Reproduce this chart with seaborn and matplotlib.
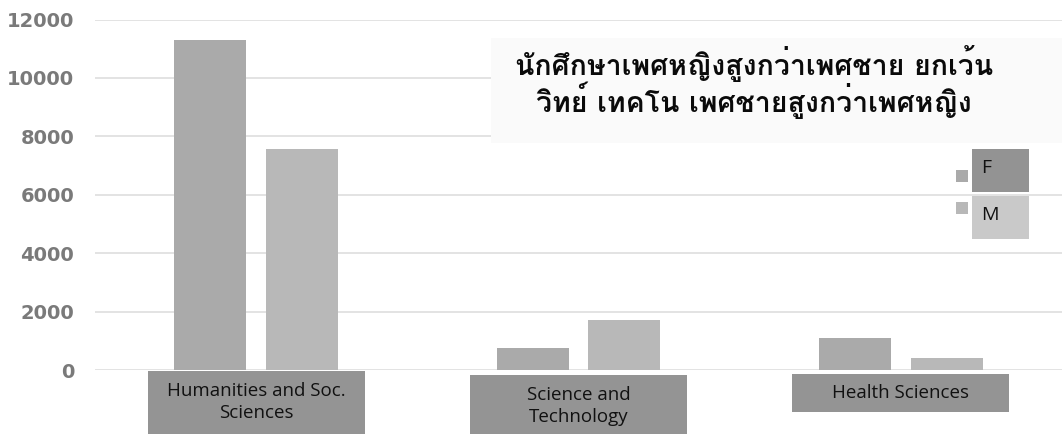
import matplotlib
matplotlib.use("Agg")
import matplotlib.pyplot as plt
from matplotlib.patches import Rectangle
from matplotlib.transforms import blended_transform_factory
import pandas as pd
import seaborn as sns

categories = ["Humanities and Soc. Sciences", "Science and Technology", "Health Sciences"]
category_labels = ["Humanities and Soc.\nSciences", "Science and\nTechnology", "Health Sciences"]
female = [11300, 750, 1090]
male = [7550, 1720, 400]
series = ["F", "M"]
yticks = [0, 2000, 4000, 6000, 8000, 10000, 12000]
title = "นักศึกษาเพศหญิงสูงกว่าเพศชาย ยกเว้น\nวิทย์ เทคโน เพศชายสูงกว่าเพศหญิง"

df = pd.DataFrame({
    "category": categories * 2,
    "sex": ["F"] * 3 + ["M"] * 3,
    "value": female + male,
})

sns.set_theme(style="white")
W, H = 1062, 434
fig = plt.figure(figsize=(W / 100, H / 100), dpi=100)

def fx(x):
    return x / W

def fy(y):
    return 1 - y / H

ax_left, ax_right, ax_top, ax_bottom = 95, 1062, 19.5, 370
ax = fig.add_axes([fx(ax_left), fy(ax_bottom), fx(ax_right - ax_left), (ax_bottom - ax_top) / H])

bar_colors = {"F": "#aaaaaa", "M": "#b8b8b8"}
sns.barplot(data=df, x="category", y="value", hue="sex", hue_order=series,
            palette=bar_colors, width=0.569, gap=0.216, linewidth=0,
            legend=False, ax=ax, zorder=2)

ax.set_ylim(0, 12000)
ax.set_xlim(-0.5, 2.5)
ax.set_yticks(yticks)
ax.set_yticklabels([str(v) for v in yticks], fontsize=14, fontweight="bold",
                   color="#7a7a7a", family="DejaVu Sans")
ax.tick_params(axis="y", length=0, pad=15)
ax.set_xticks([])
ax.set_xlabel("")
ax.set_ylabel("")
ax.yaxis.grid(True, color="#dedede", linewidth=1.2, zorder=0)
ax.set_axisbelow(True)
for s in ax.spines.values():
    s.set_visible(False)

# category label boxes below the axis
trans = blended_transform_factory(ax.transData, ax.transAxes)
box_w = 0.673
box_specs = [(-0.004, -0.25), (-0.015, -0.25), (-0.012, -0.12)]
text_y = [-0.091, -0.103, -0.065]
for i, lab in enumerate(category_labels):
    top, bottom = box_specs[i]
    ax.add_patch(Rectangle((i - box_w / 2, bottom), box_w, top - bottom,
                           transform=trans, facecolor="#949494", edgecolor="none",
                           clip_on=False, zorder=3))
    ax.text(i, text_y[i], lab, transform=trans, ha="center", va="center",
            fontsize=13.5, color="#111111", family="Open Sans", linespacing=1.3,
            zorder=4, clip_on=False)

# title box
fig.add_artist(Rectangle((fx(491), fy(142.7)), fx(1062 - 491), (142.7 - 38.3) / H,
                         transform=fig.transFigure, facecolor="#fafafa",
                         edgecolor="none", zorder=5))
fig.text(fx(754), fy(82), title, ha="center", va="center", fontsize=20.5,
         fontweight="bold", family="Loma", color="#0a0a0a", linespacing=0.97, zorder=6)

# legend
leg_sq = [(956, 170), (956, 202)]
leg_box = [(972, 149, 192, "#939393"), (972, 196, 239, "#c9c9c9")]
for k, name in enumerate(series):
    sx, sy = leg_sq[k]
    fig.add_artist(Rectangle((fx(sx), fy(sy + 12)), fx(12), 12 / H,
                             transform=fig.transFigure, facecolor=bar_colors[name],
                             edgecolor="none", zorder=7))
    bx, by0, by1, bc = leg_box[k]
    fig.add_artist(Rectangle((fx(bx), fy(by1)), fx(57), (by1 - by0) / H,
                             transform=fig.transFigure, facecolor=bc,
                             edgecolor="none", zorder=7))
    fig.text(fx(981), fy(by0 + 19), name, ha="left", va="center", fontsize=14,
             family="Open Sans", color="#111111", zorder=8)

fig.savefig("out.png", dpi=100)
